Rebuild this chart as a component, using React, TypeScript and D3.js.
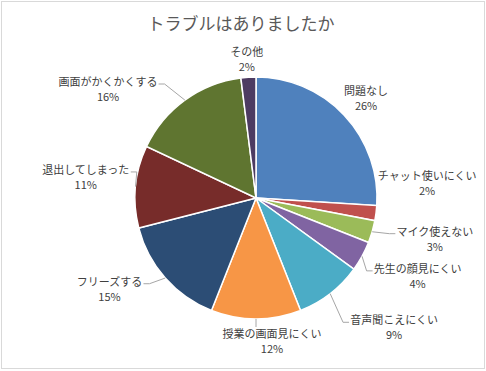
import React from 'react';
import * as d3 from 'd3';

const categories = [
  '問題なし',
  'チャット使いにくい',
  'マイク使えない',
  '先生の顔見にくい',
  '音声聞こえにくい',
  '授業の画面見にくい',
  'フリーズする',
  '退出してしまった',
  '画面がかくかくする',
  'その他',
];
const shares = [26, 2, 3, 4, 9, 12, 15, 11, 16, 2];
const colors = [
  '#4F81BD', '#C0504D', '#9BBB59', '#8064A2', '#4BACC6',
  '#F79646', '#2C4D75', '#772C2A', '#5F7530', '#4D3B62',
];

// Excel "best fit" moves some labels away from the default spot
const labelLayout: { [k: string]: { dx: number; dy: number; leader: boolean } } = {
  '問題なし': { dx: 0, dy: -1, leader: false },
  'チャット使いにくい': { dx: -6, dy: -33, leader: false },
  'マイク使えない': { dx: 18, dy: 1, leader: true },
  '先生の顔見にくい': { dx: 10, dy: 9, leader: true },
  '音声聞こえにくい': { dx: 32, dy: 16, leader: true },
  '授業の画面見にくい': { dx: 16, dy: -1, leader: true },
  'フリーズする': { dx: -25, dy: -4, leader: true },
  '退出してしまった': { dx: 2, dy: -7, leader: true },
  '画面がかくかくする': { dx: -43, dy: 8, leader: true },
  'その他': { dx: 0, dy: 5, leader: false },
};

const W = 486;
const H = 371;
const cx = 256;
const cy = 198;
const r = 121;
const fontSize = 11;
const font = '"Noto Sans CJK JP", "Noto Sans", sans-serif';

const App: React.FC = () => {
  const rows = categories.map((c, i) => ({ name: c, value: shares[i], color: colors[i] }));
  const pie = d3.pie<typeof rows[0]>().value((d) => d.value).sort(null);
  const arcs = pie(rows);
  const arc = d3.arc<d3.PieArcDatum<typeof rows[0]>>().innerRadius(0).outerRadius(r);

  const labels = arcs.map((a) => {
    const mid = (a.startAngle + a.endAngle) / 2;
    const s = Math.sin(mid);
    const c = Math.cos(mid);
    const w = a.data.name.length * fontSize;
    const h = 30;
    const R = r + 8;
    const lay = labelLayout[a.data.name];
    const lx = cx + R * s + (w / 2) * s + lay.dx;
    const ly = cy - R * c - (h / 2) * c + lay.dy;
    const ex = cx + r * s;
    const ey = cy - r * c;
    let path = '';
    if (lay.leader) {
      const left = lx - w / 2;
      const right = lx + w / 2;
      const top = ly - h / 2;
      const yy = ly - 5.5;
      if (left > ex) {
        path = `M${ex},${ey}L${left - 7},${yy}L${left - 1},${yy}`;
      } else if (right < ex) {
        path = `M${ex},${ey}L${right + 7},${yy}L${right + 1},${yy}`;
      } else {
        path = `M${ex},${ey}L${ex},${top + 1}`;
      }
    }
    return { name: a.data.name, pct: `${a.data.value}%`, lx, ly, path };
  });

  return (
    <div style={{ position: 'absolute', left: 0, top: 0 }}>
      <svg width={W} height={H} style={{ display: 'block', background: '#fff' }}>
        <rect x={1.5} y={1.5} width={W - 3} height={H - 4} fill="#fff" stroke="#D9D9D9" strokeWidth={1} />
        <text
          x={241}
          y={29.5}
          textAnchor="middle"
          fontFamily={font}
          fontSize={17}
          fill="#595959"
        >
          トラブルはありましたか
        </text>
        <g transform={`translate(${cx},${cy})`}>
          {arcs.map((a, i) => (
            <path key={i} d={arc(a) as string} fill={a.data.color} stroke="#fff" strokeWidth={1.5} />
          ))}
        </g>
        {labels.map((l, i) => (
          <g key={i}>
            {l.path && <path d={l.path} fill="none" stroke="#A6A6A6" strokeWidth={1} />}
            <text
              x={l.lx}
              textAnchor="middle"
              fontFamily={font}
              fontSize={fontSize}
              fill="#404040"
            >
              <tspan x={l.lx} y={l.ly - 3.5}>{l.name}</tspan>
              <tspan x={l.lx} y={l.ly + 11.5}>{l.pct}</tspan>
            </text>
          </g>
        ))}
      </svg>
    </div>
  );
};

export default App;
